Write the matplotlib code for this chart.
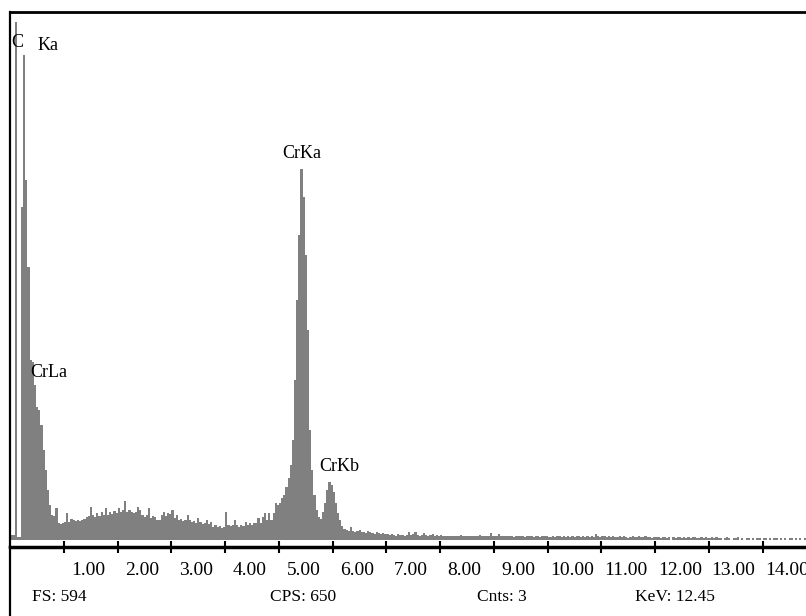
import numpy as np
import matplotlib.pyplot as plt
from matplotlib import transforms
from matplotlib.lines import Line2D

plt.rcParams['font.family'] = 'Liberation Serif'

# EDS spectrum, channel width 0.04 keV, counts
channel_kev = 0.04

counts_low = [6, 6, 583, 3, 3, 375, 546, 405, 307, 203, 200, 174, 150, 146, 129,
              101, 79, 56, 39, 28, 27, 36, 19, 18, 19]

counts_mid = [20, 30, 20, 24, 23, 21, 23, 21, 23, 24, 26, 27, 37, 28, 26, 30, 27, 32,
              28, 36, 28, 32, 29, 33, 30, 36, 32, 34, 44, 32, 34, 32, 30, 32, 37, 34,
              28, 26, 28, 36, 25, 27, 26, 23, 23, 28, 32, 27, 30, 29, 34, 25, 28, 23,
              24, 21, 23, 28, 23, 20, 21, 19, 25, 20, 18, 19, 23, 18, 20, 15, 17, 15,
              16, 14, 15, 32, 17, 16, 17, 23, 17, 15, 17, 16, 20, 17, 19, 17, 19, 19,
              25, 19, 26, 30, 23, 30, 23, 30, 42, 39]

counts_peak = [42, 47, 51, 60, 70, 84, 113, 180, 270, 343, 417, 386, 321, 236, 124,
               79, 51, 34, 26, 24, 32, 42, 56, 65, 62, 54, 42, 30, 23, 16, 12]

counts_tail = [11, 10, 15, 10, 9, 10, 11, 9, 9, 8, 10, 9, 8, 7, 9, 8, 7, 8, 7,
               7, 6, 7, 6, 5, 7, 6, 6, 5, 6, 9, 6, 7, 9, 6, 5, 6, 8, 6, 5, 6, 7, 5, 6, 5, 6,
               5, 4, 5, 4, 5, 5, 4, 5, 6, 4, 5, 4, 5, 4, 4, 5, 4, 6, 4, 5, 4, 5, 8, 4, 5,
               4, 7, 4, 5, 4, 4, 5, 4, 3, 4, 5, 4, 4, 3, 4, 5, 4, 3, 4, 4, 3, 5, 4, 4, 3,
               3, 4, 3, 4, 4, 3, 4, 3, 4, 3, 4, 3, 4, 5, 3, 4, 3, 4, 3, 4, 3, 7, 4, 3, 4,
               4, 3, 4, 3, 4, 3, 3, 4, 3, 4, 3, 2, 3, 4, 3, 3, 4, 3, 3, 4, 3, 3, 2, 3, 3,
               3, 2, 3, 3, 2, 3, 0, 3, 2, 3, 3, 2, 3, 2, 3, 2, 3, 3, 2, 2, 3, 2, 3, 2, 2,
               3, 2, 3, 2, 2, 0, 2, 3, 2, 0, 2, 2, 3, 0, 2, 0, 2, 2, 0, 2, 0, 2, 2, 0, 2,
               2, 0, 2, 0, 2, 2, 0, 2, 0, 2, 0, 2, 2, 0, 2, 0, 2, 0, 2]

tick_vals = [1, 2, 3, 4, 5, 6, 7, 8, 9, 10, 11, 12, 13, 14]
tick_labels = ["1.00", "2.00", "3.00", "4.00", "5.00", "6.00", "7.00", "8.00",
               "9.00", "10.00", "11.00", "12.00", "13.00", "14.00"]

peak_names = ["C", "Ka", "CrLa", "CrKa", "CrKb"]
peak_x = [0.13, 0.70, 0.72, 5.43, 6.13]
peak_y = [560, 556, 188, 435, 83]

footer = ["FS: 594", "CPS: 650", "Cnts: 3", "KeV: 12.45"]
footer_x = [32, 270, 477, 635]

W, H = 806, 616
fig = plt.figure(figsize=(W / 100, H / 100), dpi=100)
ax = fig.add_axes([9.5 / W, (H - 547) / H, (W - 9.5) / W, (547 - 12) / H])

counts = np.concatenate([counts_low, counts_mid, counts_peak, counts_tail])
edges = np.arange(len(counts) + 1) * channel_kev
ax.stairs(counts, edges, fill=True, color='#808080', linewidth=0)

ax.set_xlim(-0.014, 14.805)
ax.set_ylim(-7.9, 594)
ax.set_yticks([])
ax.spines['right'].set_visible(False)
ax.spines['top'].set_linewidth(2.0)
ax.spines['left'].set_linewidth(1.6)
ax.spines['bottom'].set_linewidth(2.5)

ax.set_xticks(tick_vals, tick_labels, fontsize=14)
ax.tick_params(axis='x', direction='inout', length=8, width=1.5, pad=6)
shift = transforms.ScaledTranslation(0.245, -0.01, fig.dpi_scale_trans)
for lab in ax.get_xticklabels():
    lab.set_transform(lab.get_transform() + shift)

for name, x, y in zip(peak_names, peak_x, peak_y):
    ax.text(x, y, name, fontsize=13, ha='center', va='center')

# frame goes on below the energy axis
fig.add_artist(Line2D([9.5 / W, 9.5 / W], [0, (H - 547) / H], color='k', lw=1.6))

for txt, x in zip(footer, footer_x):
    fig.text(x / W, 1 - 597 / H, txt, fontsize=12.5, ha='left', va='center')

fig.savefig('out.png', dpi=100)
